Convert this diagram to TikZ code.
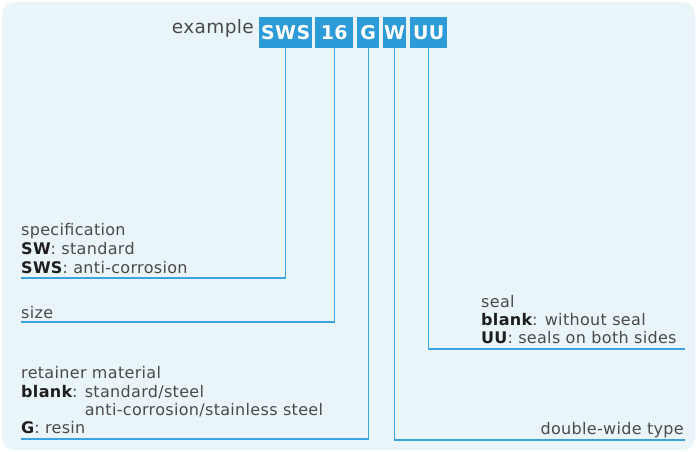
\documentclass[tikz,border=0pt]{standalone}
\usepackage{fontspec}
\setmainfont{DejaVu Sans}[LetterSpace=2]
\newfontfamily\boxfont{DejaVu Sans}[LetterSpace=2]
\definecolor{bgc}{HTML}{EAF5FA}
\definecolor{boxc}{HTML}{2C9BD8}
\definecolor{linec}{HTML}{3BA3DE}
\definecolor{txtc}{HTML}{4A4A4A}
\definecolor{boldc}{HTML}{1E1E1E}
\newcommand{\bk}[1]{{\bfseries\color{boldc}#1}}
\begin{document}
\begin{tikzpicture}[x=1pt,y=-1pt,
  codebox/.style={fill=boxc,text=white,font=\boxfont\fontsize{19}{19}\selectfont\bfseries,inner sep=0,minimum height=31pt,anchor=north west},
  lbl/.style={anchor=base west,inner sep=0,text=txtc,font=\fontsize{16}{18}\selectfont},
  lblr/.style={anchor=base east,inner sep=0,text=txtc,font=\fontsize{16}{18}\selectfont},
  conn/.style={draw=linec,line width=1.4pt}]
\useasboundingbox (0,0) rectangle (697,452);
\fill[bgc,rounded corners=12pt] (2,2) rectangle (695,450);
% code boxes
\node[codebox,minimum width=53pt] (b1) at (259,17) {SWS};
\node[codebox,minimum width=38pt] (b2) at (315,17) {16};
\node[codebox,minimum width=22pt] (b3) at (357,17) {G};
\node[codebox,minimum width=23pt] (b4) at (383,17) {W};
\node[codebox,minimum width=37pt] (b5) at (410,17) {UU};
\node[lblr,font=\fontsize{18.5}{20}\selectfont] (ex) at (254,34) {example};
% end points of connectors
\coordinate (e1) at (21,278);
\coordinate (e2) at (21,322);
\coordinate (e3) at (21,439);
\coordinate (e4) at (685,440);
\coordinate (e5) at (685,349);
\draw[conn] (b1.south) |- (e1);
\draw[conn] (b2.south) |- (e2);
\draw[conn] (b3.south) |- (e3);
\draw[conn] (b4.south) |- (e4);
\draw[conn] (b5.south) |- (e5);
% specification
\node[lbl] (s1) at (21,235) {specification};
\node[lbl] (s2) at (21,254) {\bk{SW}: standard};
\node[lbl] (s3) at (21,273) {\bk{SWS}: anti-corrosion};
% size
\node[lbl] (z1) at (21,318) {size};
% retainer
\node[lbl] (r1) at (21,378) {retainer material};
\node[lbl] (r2) at (21,397) {\bk{blank}: standard/steel};
\node[lbl] (r3) at (21,415) {\hphantom{\bk{blank}: }anti-corrosion/stainless steel};
\node[lbl] (r4) at (21,433) {\bk{G}: resin};
% seal
\node[lbl] (q1) at (481,307) {seal};
\node[lbl] (q2) at (481,325) {\bk{blank}: without seal};
\node[lbl] (q3) at (481,343) {\bk{UU}: seals on both sides};
% double-wide
\node[lblr] (w1) at (684,434) {double-wide type};
\end{tikzpicture}
\end{document}
